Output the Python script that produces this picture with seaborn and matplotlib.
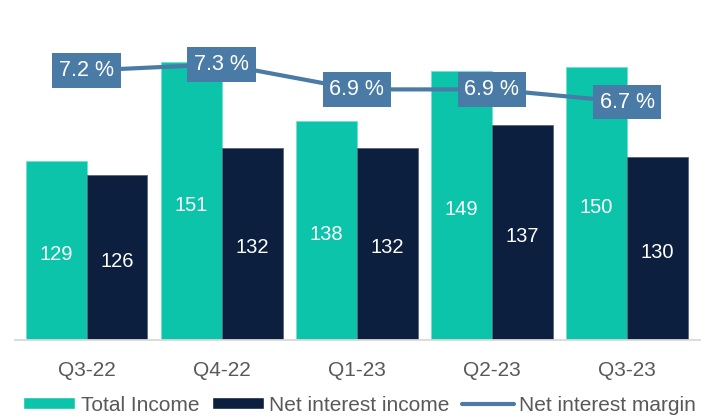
import numpy as np
import pandas as pd
import matplotlib.pyplot as plt
import matplotlib.patches as mpatches
from matplotlib.lines import Line2D
import seaborn as sns

# Données
quarters = ["Q3-22", "Q4-22", "Q1-23", "Q2-23", "Q3-23"]
total_income = [129, 151, 138, 149, 150]
net_interest_income = [126, 132, 132, 137, 130]
net_interest_margin = [7.2, 7.3, 6.9, 6.9, 6.7]

TEAL = "#0BC4A9"
NAVY = "#0D1F3E"
STEEL = "#4A7BA6"
GREY = "#595959"

sns.set_theme(style="white")
plt.rcParams["font.family"] = ["Liberation Sans", "DejaVu Sans"]

df = pd.DataFrame({
    "quarter": quarters * 2,
    "value": total_income + net_interest_income,
    "series": ["Total Income"] * len(quarters) + ["Net interest income"] * len(quarters),
})

fig = plt.figure(figsize=(7.05, 4.19), dpi=100)
ax = fig.add_axes([0.0213, 0.1885, 0.9716, 0.8115])

sns.barplot(data=df, x="quarter", y="value", hue="series", palette=[TEAL, NAVY],
            saturation=1, width=0.9, gap=0, legend=False, ax=ax)

# bordure fine autour des barres
for container, edge in zip(ax.containers, ["#6FE3CF", "#5A6478"]):
    for bar in container:
        bar.set_edgecolor(edge)
        bar.set_linewidth(0.6)

ax.set_xlim(-0.53, 4.54)
ax.set_ylim(89.2, 164.8)
ymin = ax.get_ylim()[0]

# étiquettes au centre de la partie visible de chaque barre
for container in ax.containers:
    for bar in container:
        x = bar.get_x() + bar.get_width() / 2
        v = bar.get_height()
        ax.annotate(f"{v:.0f}", (x, (ymin + v) / 2), xytext=(0, -3),
                    textcoords="offset points", color="white", fontsize=14.5,
                    ha="center", va="center")

ax.set_xlabel("")
ax.set_ylabel("")
ax.set_yticks([])
ax.tick_params(axis="x", length=0, pad=15, labelsize=15, labelcolor=GREY)
for side in ["left", "right", "top"]:
    ax.spines[side].set_visible(False)
ax.spines["bottom"].set_color("#D9D9D9")
ax.spines["bottom"].set_linewidth(1.3)

# marge d'intérêt sur un axe secondaire
ax2 = ax.twinx()
sns.lineplot(x=quarters, y=net_interest_margin, color=STEEL, linewidth=3,
             sort=False, errorbar=None, ax=ax2)
ax2.set_ylim(2.92, 8.32)
ax2.set_yticks([])
for side in ["left", "right", "top", "bottom"]:
    ax2.spines[side].set_visible(False)

for i, m in enumerate(net_interest_margin):
    ax2.text(i, m, f"{m:.1f} %", color="white", fontsize=15.5, ha="center", va="center",
             bbox=dict(boxstyle="square,pad=0.32", facecolor=STEEL, edgecolor="none"))

handles = [
    mpatches.Patch(facecolor=TEAL),
    mpatches.Patch(facecolor=NAVY),
    Line2D([], [], color=STEEL, linewidth=3, solid_capstyle="round"),
]
labels = ["Total Income", "Net interest income", "Net interest margin"]
fig.legend(handles, labels, loc="center", bbox_to_anchor=(0.51, 0.033), ncol=3,
           frameon=False, fontsize=15, handlelength=2.5, handleheight=0.5,
           handletextpad=0.25, columnspacing=0.6, labelcolor=GREY)

fig.savefig("out.png", dpi=100, facecolor="white")
